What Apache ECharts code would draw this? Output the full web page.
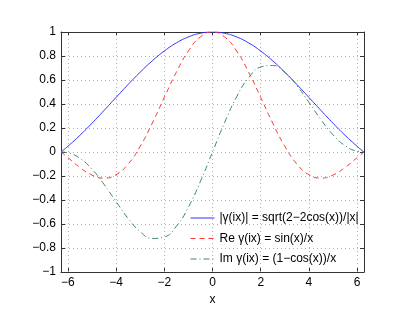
<!DOCTYPE html>
<html>
<head>
<meta charset="utf-8">
<script src="https://cdn.jsdelivr.net/npm/echarts@6/dist/echarts.min.js"></script>
<style>html,body{margin:0;padding:0;background:#fff;}#c{width:415px;height:315px;}</style>
</head>
<body>
<div id="c"></div>
<script>
var xVals = [-6.2832,-6,-5.5,-5,-4.5,-4,-3.5,-3,-2.5,-2,-1.5,-1,-0.5,0,0.5,1,1.5,2,2.5,3,3.5,4,4.5,5,5.5,6,6.2832];
var absVals = [0,0.0470,0.1388,0.2394,0.3458,0.4546,0.5623,0.6650,0.7592,0.8415,0.9089,0.9589,0.9896,1,0.9896,0.9589,0.9089,0.8415,0.7592,0.6650,0.5623,0.4546,0.3458,0.2394,0.1388,0.0470,0];
var reVals = [0,-0.0466,-0.1283,-0.1918,-0.2172,-0.1892,-0.1002,0.0470,0.2394,0.4546,0.6650,0.8415,0.9589,1,0.9589,0.8415,0.6650,0.4546,0.2394,0.0470,-0.1002,-0.1892,-0.2172,-0.1918,-0.1283,-0.0466,0];
var imVals = [0,-0.0066,-0.0530,-0.1433,-0.2691,-0.4134,-0.5533,-0.6633,-0.7205,-0.7081,-0.6195,-0.4597,-0.2448,0,0.2448,0.4597,0.6195,0.7081,0.7205,0.6633,0.5533,0.4134,0.2691,0.1433,0.0530,0.0066,0];
var xTicks = [-6,-4,-2,0,2,4,6];
var seriesNames = ['|\u03b3(ix)| = sqrt(2\u22122cos(x))/|x|','Re \u03b3(ix) = sin(x)/x','Im \u03b3(ix) = (1\u2212cos(x))/x'];

function pairs(v){ return xVals.map(function(x,i){ return [x, v[i]]; }); }
var FONT = 'Liberation Sans';
var axisLine = {show:true, onZero:false, lineStyle:{color:'#333', width:1}};
var gridColor = '#b0b0b0';
var chart = echarts.init(document.getElementById('c'), null, {renderer:'canvas'});
chart.setOption({
  animation:false,
  backgroundColor:'#fff',
  grid:{left:61, right:51, top:32, bottom:43},
  legend:{
    orient:'vertical', left:185, top:207, itemWidth:24, itemHeight:14, itemGap:8.5,
    itemStyle:{opacity:0},
    lineStyle:{width:1},
    textStyle:{fontFamily:FONT, fontSize:12, color:'#000'},
    data:seriesNames
  },
  xAxis:[{
    type:'value', min:-6.2832, max:6.2832,
    name:'x', nameLocation:'middle', nameGap:22,
    nameTextStyle:{fontFamily:FONT, fontSize:12, color:'#000'},
    axisLine:axisLine,
    axisTick:{show:true, inside:true, length:4, customValues:xTicks, lineStyle:{color:'#333'}},
    axisLabel:{customValues:xTicks, fontFamily:FONT, fontSize:12, color:'#000', margin:5,
      formatter:function(v){ return String(v).replace('-','\u2212'); }},
    splitLine:{show:false}
  },{
    type:'value', min:-6.2832, max:6.2832, position:'top',
    axisLine:axisLine,
    axisTick:{show:true, inside:true, length:4, customValues:xTicks, lineStyle:{color:'#333'}},
    axisLabel:{show:false, customValues:xTicks},
    splitLine:{show:false}
  }],
  yAxis:[{
    type:'value', min:-1, max:1, interval:0.2,
    axisLine:axisLine,
    axisTick:{show:true, inside:true, length:4, lineStyle:{color:'#333'}},
    axisLabel:{fontFamily:FONT, fontSize:12, color:'#000', margin:5,
      formatter:function(v){ var s = (Math.round(v*10)/10).toString(); return s.replace('-','\u2212'); }},
    splitLine:{show:true, lineStyle:{color:gridColor, type:[1,3]}}
  },{
    type:'value', min:-1, max:1, interval:0.2, position:'right',
    axisLine:axisLine,
    axisTick:{show:true, inside:true, length:4, lineStyle:{color:'#333'}},
    axisLabel:{show:false},
    splitLine:{show:false}
  }],
  series:[
    {name:seriesNames[0], type:'line', data:pairs(absVals), smooth:true, showSymbol:false, symbol:'none',
      lineStyle:{color:'#3030ff', width:1}, itemStyle:{color:'#3030ff'}, z:5,
      markLine:{silent:true, symbol:['none','none'], label:{show:false}, animation:false, z:1,
        lineStyle:{color:gridColor, type:[1,3], width:1},
        data:xTicks.map(function(t){ return {xAxis:t}; })}},
    {name:seriesNames[1], type:'line', data:pairs(reVals), smooth:true, showSymbol:false, symbol:'none',
      lineStyle:{color:'#ff3535', width:1, type:[5,4]}, itemStyle:{color:'#ff3535'}, z:5},
    {name:seriesNames[2], type:'line', data:pairs(imVals), smooth:true, showSymbol:false, symbol:'none',
      lineStyle:{color:'#3a8a5e', width:1, type:[6,3,1,3]}, itemStyle:{color:'#3a8a5e'}, z:5}
  ]
});
</script>
</body>
</html>
